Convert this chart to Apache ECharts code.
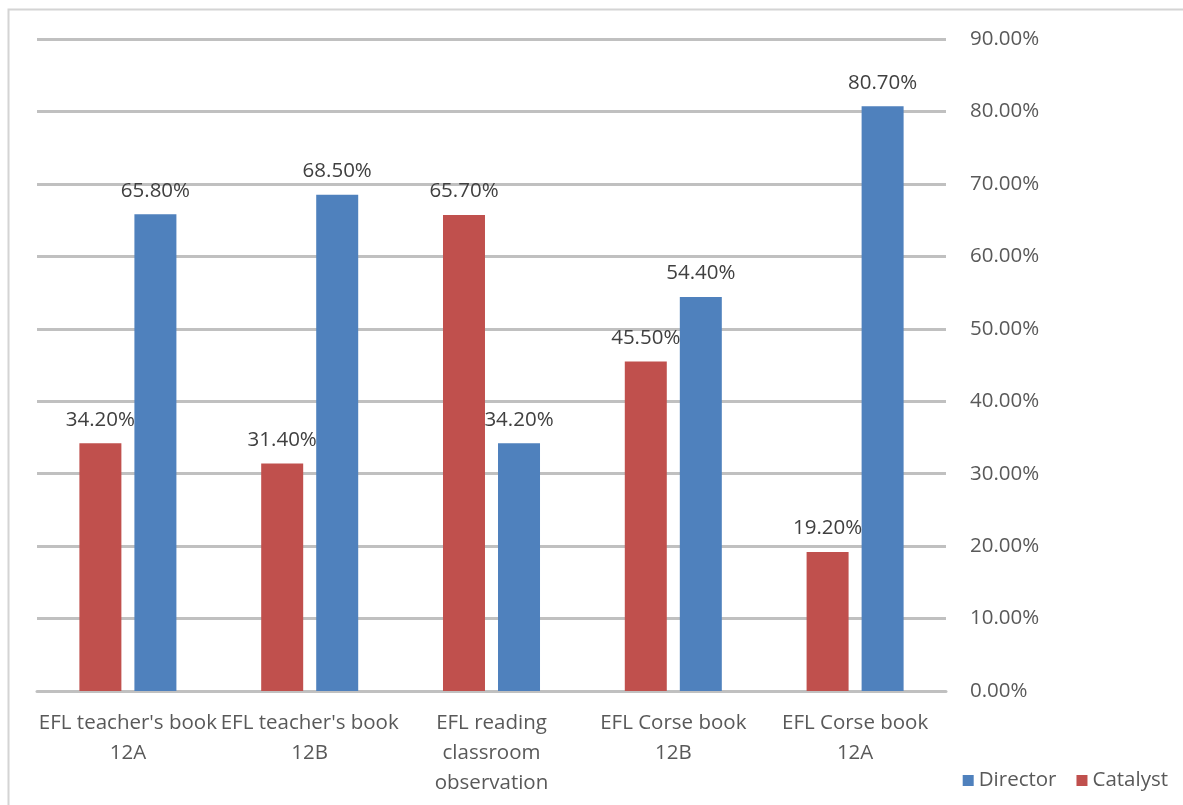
<!DOCTYPE html>
<html>
<head>
<meta charset="utf-8">
<script src="https://cdn.jsdelivr.net/npm/echarts@6/dist/echarts.min.js"></script>
<style>
html,body{margin:0;padding:0;background:#fff;}
#chart{width:1183px;height:805px;}
</style>
</head>
<body>
<div id="chart"></div>
<script>
const categories = ["EFL teacher's book\n12A", "EFL teacher's book\n12B", "EFL reading\nclassroom\nobservation", "EFL Corse book\n12B", "EFL Corse book\n12A"];
const catalyst = [34.2, 31.4, 65.7, 45.5, 19.2];
const director = [65.8, 68.5, 34.2, 54.4, 80.7];
const yMin = 0, yMax = 90, yStep = 10;

const FONT = '"Open Sans", "Liberation Sans", sans-serif';
const FS = 20.5;
const chart = echarts.init(document.getElementById('chart'));
const pct = v => Number(v).toFixed(2) + '%';
chart.setOption({
  animation: false,
  backgroundColor: '#fff',
  textStyle: { fontFamily: FONT },
  graphic: [{
    type: 'rect', silent: true,
    shape: { x: 8.5, y: 9.5, width: 1200, height: 820 },
    style: { fill: 'none', stroke: '#d4d4d4', lineWidth: 2 }
  }],
  grid: { left: 37, right: 237, top: 39, bottom: 114 },
  legend: {
    right: 10, top: 765,
    itemWidth: 11, itemHeight: 11, itemGap: 20,
    icon: 'rect',
    data: ['Director', 'Catalyst'],
    textStyle: { fontSize: FS, color: '#595959', fontFamily: FONT }
  },
  xAxis: {
    type: 'category', data: categories,
    axisLine: { show: true, lineStyle: { color: '#c0c0c0', width: 3 } },
    axisTick: { show: false },
    axisLabel: { interval: 0, fontSize: FS, color: '#595959', lineHeight: 30, margin: 17, fontFamily: FONT }
  },
  yAxis: {
    type: 'value', position: 'right', min: yMin, max: yMax, interval: yStep,
    axisLine: { show: false }, axisTick: { show: false },
    splitLine: { lineStyle: { color: '#c0c0c0', width: 3 } },
    axisLabel: { formatter: pct, fontSize: FS, color: '#595959', margin: 24, fontFamily: FONT }
  },
  series: [
    { name: 'Catalyst', type: 'bar', data: catalyst, barWidth: 42, barGap: '31%',
      itemStyle: { color: '#C0504D' },
      label: { show: true, position: 'top', distance: 13, formatter: p => pct(p.value), fontSize: FS, color: '#404040', fontFamily: FONT } },
    { name: 'Director', type: 'bar', data: director, barWidth: 42, barGap: '31%',
      itemStyle: { color: '#4F81BD' },
      label: { show: true, position: 'top', distance: 13, formatter: p => pct(p.value), fontSize: FS, color: '#404040', fontFamily: FONT } }
  ]
});
</script>
</body>
</html>
